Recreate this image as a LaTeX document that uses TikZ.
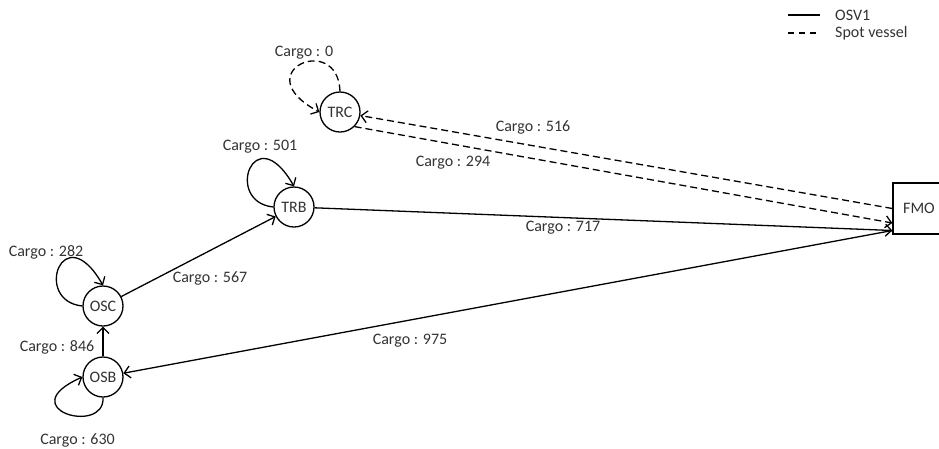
\documentclass[tikz,border=0pt]{standalone}
\usepackage{fontspec}
\setmainfont{Carlito}
\usetikzlibrary{arrows.meta}
\begin{document}
\begin{tikzpicture}[x=1pt,y=-1pt,
  every node/.style={font=\fontsize{16}{19}\selectfont},
  state/.style={draw,circle,minimum size=40pt,inner sep=0pt,line width=1.3pt,text=black!80},
  box/.style={draw,rectangle,minimum width=52pt,minimum height=51pt,inner sep=0pt,line width=1.3pt,text=black!80},
  edge/.style={line width=1.3pt,-{Straight Barb[length=6pt,width=12pt]}},
  spot/.style={edge,dash pattern=on 7pt off 4pt},
  lbl/.style={inner sep=0pt,text=black!80}]
\useasboundingbox (0,0) rectangle (939,448);

% nodes
\node[state] (TRC) at (340,112) {TRC};
\node[state] (TRB) at (294,207) {TRB};
\node[state] (OSC) at (103,306) {OSC};
\node[state] (OSB) at (103,377) {OSB};
\node[box] (FMO) at (919,208.5) {FMO};

\coordinate (f2) at ([yshift=-14.5pt]FMO.west);
\coordinate (f3) at ([yshift=-22pt]FMO.west);

% spot vessel (dashed)
\draw[spot] (TRC.north) .. controls +(-2,-60) and +(-75,-40) .. (TRC.west);
\draw[spot] (FMO.west) -- (TRC);
\draw[spot] (TRC.-45) -- (f2);

% OSV1 (solid)
\draw[edge] (TRB.west) .. controls +(-50,-5) and +(-40,-70) .. (TRB.north);
\draw[edge] (OSC.west) .. controls +(-50,-5) and +(-40,-70) .. (OSC.north);
\draw[edge] (OSB.south) .. controls +(2,38) and +(-72,32) .. (OSB.west);
\draw[edge] (OSC) -- (TRB);
\draw[edge] (OSB) -- (OSC);
\draw[edge] (TRB) -- (f3);
\draw[edge] (f3) -- (OSB);

% labels
\node[lbl] (l0)   at (304,53)  {Cargo : 0};
\node[lbl] (l516) at (533,127) {Cargo : 516};
\node[lbl] (l294) at (453,163) {Cargo : 294};
\node[lbl] (l501) at (260,147) {Cargo : 501};
\node[lbl] (l717) at (563,228) {Cargo : 717};
\node[lbl] (l282) at (46,252)  {Cargo : 282};
\node[lbl] (l567) at (210,278) {Cargo : 567};
\node[lbl] (l846) at (57,347)  {Cargo : 846};
\node[lbl] (l975) at (410,341) {Cargo : 975};
\node[lbl] (l630) at (77.5,440) {Cargo : 630};

% legend
\coordinate (a1) at (788,15);
\coordinate (a2) at (820,15);
\coordinate (b1) at (788,33);
\coordinate (b2) at (820,33);
\draw[line width=1.3pt] (a1) -- (a2);
\draw[line width=1.3pt,dash pattern=on 6pt off 5pt] (b1) -- (b2);
\node[lbl,anchor=west] (leg1) at (835,15) {OSV1};
\node[lbl,anchor=west] (leg2) at (835,33) {Spot vessel};
\end{tikzpicture}
\end{document}
